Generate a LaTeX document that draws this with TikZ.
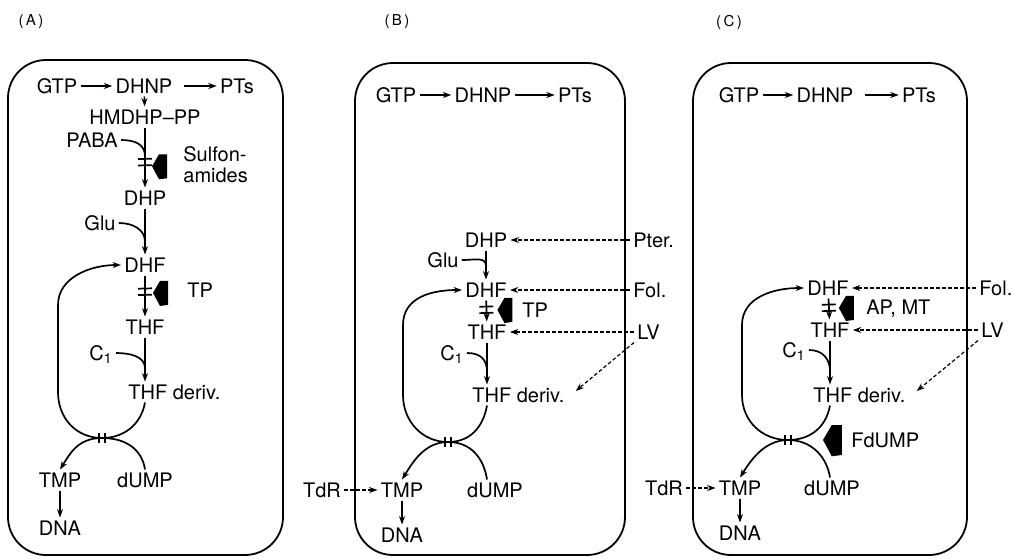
\documentclass[tikz,border=0pt]{standalone}
\usepackage{fontspec}
\setmainfont{TeX Gyre Heros}
\usetikzlibrary{arrows.meta,calc}
\begin{document}
\begin{tikzpicture}[x=0.5pt,y=-0.5pt,
  txt/.style={font=\fontsize{10}{10.5}\selectfont, inner sep=1.5pt},
  t/.style={txt, text height=7.1pt, text depth=0pt},
  plab/.style={font=\fontsize{7.5}{8}\selectfont, inner sep=1pt},
  ln/.style={line width=0.85pt},
  ar/.style={ln, -{Stealth[length=4.2pt,width=3pt]}},
  dar/.style={line width=0.6pt, dash pattern=on 1.8pt off 1.2pt, -{Stealth[length=4.2pt,width=3pt]}},
  cell/.style={line width=0.9pt, rounded corners=19pt},
  hticks/.pic={\draw[line width=0.85pt] (-7,-3.2) -- (7,-3.6) (-7,3.2) -- (7,2.8);},
  vticks/.pic={\draw[line width=0.85pt] (-3,-5) -- (-3,5) (3,-5) -- (3,5);},
  blocker/.pic={\fill (-8,0) -- (-1,-12) -- (7,-12) -- (7,12) -- (-1,13) -- cycle;},
]
\useasboundingbox (0,0) rectangle (1013,558);

% ================= Panel A =================
\node[plab] (labA) at (31,22) {(\,A\,)};
\draw[cell] (8,60) rectangle (283,555);
\node[t] (gtpA) at (57,86) {GTP};
\node[t] (dhnpA) at (144,86) {DHNP};
\node[t] (ptsA) at (237,86) {PTs};
\node[t] (hmA) at (145,117) {HMDHP\textendash PP};
\node[t] (pabaA) at (92,140) {PABA};
\node[txt,align=left,anchor=west] (sulA) at (180,165) {Sulfon-\\amides};
\node[t] (dhpA) at (145,198) {DHP};
\node[t] (gluA) at (100,223) {Glu};
\node[t] (dhfA) at (145,265) {DHF};
\node[t,anchor=west] (tpA) at (184,290) {TP};
\node[t] (thfA) at (145,327) {THF};
\node[t] (c1A) at (101,353) {C\textsubscript{1}};
\node[t,anchor=west] (thfdA) at (125,392) {THF deriv.};
\node[t] (tmpA) at (60,480) {TMP};
\node[t] (dumpA) at (145,480) {dUMP};
\node[t] (dnaA) at (60,528) {DNA};
\coordinate (thfdtA) at (thfA |- thfdA.north);
\coordinate (thfdbA) at (thfA |- thfdA.south);
\coordinate (xA) at (102,438);

\draw[ar] (gtpA) -- (dhnpA);
\draw[ar,shorten <=4pt] (dhnpA) -- (ptsA);
\draw[ar] (dhnpA) -- (hmA);
\draw[ar] (hmA) -- (dhpA);
\coordinate (tkA1) at ($(hmA.south)!0.58!(dhpA.north)$);
\pic at (tkA1) {hticks};
\pic at ($(tkA1)+(15,4)$) {blocker};
\draw[ln] (pabaA.east) .. controls +(14,0) and +(0,-12) .. ($(hmA.south)!0.48!(dhpA.north)$);
\draw[ar] (dhpA) -- (dhfA);
\draw[ln] (gluA.east) .. controls +(14,0) and +(0,-12) .. ($(dhpA.south)!0.72!(dhfA.north)$);
\draw[ar] (dhfA) -- (thfA);
\coordinate (tkA2) at ($(dhfA.south)!0.4!(thfA.north)$);
\pic at (tkA2) {hticks};
\pic at ($(tkA2)+(16,1)$) {blocker};
\draw[ar] (thfA) -- (thfdtA);
\draw[ln] (c1A.east) .. controls +(14,0) and +(0,-12) .. ($(thfA.south)!0.7!(thfdtA)$);
\draw[ar] (thfdbA) .. controls +(-4,22) and +(22,0) .. (xA) .. controls +(-26,0) and +(0,26) .. (58,392) -- (58,305) .. controls +(0,-28) and +(-30,0) .. (dhfA.west);
\draw[ar] (dumpA.north) .. controls +(-3,-20) and +(24,0) .. (xA) .. controls +(-24,0) and +(10,-16) .. (tmpA.north);
\pic at (xA) {vticks};
\draw[ar] (tmpA) -- (dnaA);

% ================= Panel B =================
\node[plab] (labB) at (397,22) {(\,B\,)};
\draw[cell] (355,63) rectangle (625,555);
\node[t] (gtpB) at (396,95) {GTP};
\node[t] (dhnpB) at (483,95) {DHNP};
\node[t] (ptsB) at (575,95) {PTs};
\node[t] (dhpB) at (486,240) {DHP};
\node[t,anchor=west] (pterB) at (630,240) {Pter.};
\node[t] (gluB) at (443,260) {Glu};
\node[t] (dhfB) at (486,290) {DHF};
\node[t,anchor=west] (folB) at (630,290) {Fol.};
\node[t,anchor=west] (tpB) at (519,310) {TP};
\node[t] (thfB) at (487,332) {THF};
\node[t,anchor=west] (lvB) at (634,332) {LV};
\node[t] (c1B) at (452,353) {C\textsubscript{1}};
\node[t,anchor=west] (thfdB) at (469,395) {THF deriv.};
\node[t] (tdrB) at (322,490) {TdR};
\node[t] (tmpB) at (402,490) {TMP};
\node[t] (dumpB) at (495,490) {dUMP};
\node[t] (dnaB) at (402,535) {DNA};
\coordinate (thfdtB) at (thfB |- thfdB.north);
\coordinate (thfdbB) at (thfB |- thfdB.south);
\coordinate (xB) at (448,442);

\draw[ar] (gtpB) -- (dhnpB);
\draw[ar] (dhnpB) -- (ptsB);
\draw[ar] (dhpB) -- (dhfB);
\draw[ln] (gluB.east) .. controls +(14,0) and +(0,-10) .. ($(dhpB.south)!0.55!(dhfB.north)$);
\draw[dar] (pterB) -- (dhpB);
\draw[dar] (folB) -- (dhfB);
\draw[ar] (dhfB) -- (thfB);
\coordinate (tkB) at ($(dhfB.south)!0.45!(thfB.north)$);
\pic at (tkB) {hticks};
\pic at ($(tkB)+(19,0)$) {blocker};
\draw[dar] (lvB) -- (thfB);
\draw[ar] (thfB) -- (thfdtB);
\draw[ln] (c1B.east) .. controls +(14,0) and +(0,-12) .. ($(thfB.south)!0.7!(thfdtB)$);
\draw[dar] (lvB.south west) -- ($(thfdB.east)+(8,-4)$);
\draw[ar] (thfdbB) .. controls +(-4,22) and +(22,0) .. (xB) .. controls +(-26,0) and +(0,26) .. (403,395) -- (403,325) .. controls +(0,-28) and +(-30,0) .. (dhfB.west);
\draw[ar] (thfB |- dumpB.north) .. controls +(-3,-20) and +(24,0) .. (xB) .. controls +(-24,0) and +(10,-16) .. (tmpB.north);
\pic at (xB) {vticks};
\draw[dar] (tdrB) -- (tmpB);
\draw[ar] (tmpB) -- (dnaB);

% ================= Panel C =================
\node[plab] (labC) at (729,22) {(\,C\,)};
\draw[cell] (693,63) rectangle (967,555);
\node[t] (gtpC) at (739,95) {GTP};
\node[t] (dhnpC) at (825,95) {DHNP};
\node[t] (ptsC) at (919,95) {PTs};
\node[t] (dhfC) at (828,288) {DHF};
\node[t,anchor=west] (folC) at (976,288) {Fol.};
\node[t,anchor=west] (apC) at (863,307) {AP, MT};
\node[t] (thfC) at (830,330) {THF};
\node[t,anchor=west] (lvC) at (978,330) {LV};
\node[t] (c1C) at (794,350) {C\textsubscript{1}};
\node[t,anchor=west] (thfdC) at (810,395) {THF deriv.};
\node[t,anchor=west] (fdC) at (848,440) {FdUMP};
\node[t] (tdrC) at (664,488) {TdR};
\node[t] (tmpC) at (740,488) {TMP};
\node[t] (dumpC) at (832,488) {dUMP};
\node[t] (dnaC) at (740,533) {DNA};
\coordinate (thfdtC) at (thfC |- thfdC.north);
\coordinate (thfdbC) at (thfC |- thfdC.south);
\coordinate (xC) at (788,440);

\draw[ar] (gtpC) -- (dhnpC);
\draw[ar,shorten <=4pt] (dhnpC) -- (ptsC);
\draw[dar] (folC) -- (dhfC);
\draw[ar] (dhfC) -- (thfC);
\coordinate (tkC) at ($(dhfC.south)!0.45!(thfC.north)$);
\pic at (tkC) {hticks};
\pic at ($(tkC)+(18,0)$) {blocker};
\draw[dar] (lvC) -- (thfC);
\draw[ar] (thfC) -- (thfdtC);
\draw[ln] (c1C.east) .. controls +(14,0) and +(0,-12) .. ($(thfC.south)!0.7!(thfdtC)$);
\draw[dar] (lvC.south west) -- ($(thfdC.east)+(8,-4)$);
\draw[ar] (thfdbC) .. controls +(-4,22) and +(22,0) .. (xC) .. controls +(-26,0) and +(0,26) .. (742,395) -- (742,325) .. controls +(0,-28) and +(-30,0) .. (dhfC.west);
\draw[ar] (thfC |- dumpC.north) .. controls +(-3,-20) and +(24,0) .. (xC) .. controls +(-24,0) and +(10,-16) .. (tmpC.north);
\pic at (xC) {vticks};
\pic[scale=1.25] at (833,440) {blocker};
\draw[dar] (tdrC) -- (tmpC);
\draw[ar] (tmpC) -- (dnaC);
\end{tikzpicture}
\end{document}
